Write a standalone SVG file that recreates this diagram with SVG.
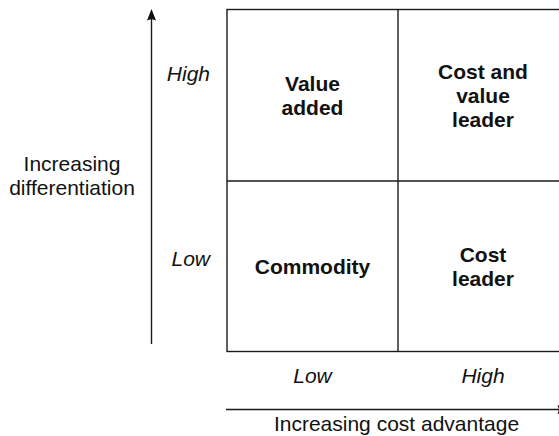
<svg xmlns="http://www.w3.org/2000/svg" width="559" height="436" viewBox="0 0 559 436">
  <style>
    .ln { fill: none; stroke: #1a1a1a; stroke-width: 1.4; }
    .t { font-family: "Liberation Sans", Arial, Helvetica, sans-serif; font-size: 21px; fill: #111; text-anchor: middle; }
    .b { font-weight: bold; }
    .i { font-style: italic; }
    .head { fill: #111; stroke: none; }
  </style>
  <rect width="559" height="436" fill="#ffffff"/>

  <g id="grid">
    <rect class="ln" x="227" y="9.5" width="342" height="342"/>
    <line class="ln" x1="398" y1="9.5" x2="398" y2="351.5"/>
    <line class="ln" x1="227" y1="181" x2="569" y2="181"/>
  </g>

  <g id="value-added">
    <text class="t b" x="312.5" y="90.5">Value</text>
    <text class="t b" x="312.5" y="114.5">added</text>
  </g>
  <g id="cost-and-value-leader">
    <text class="t b" x="483" y="78.5">Cost and</text>
    <text class="t b" x="483" y="102.5">value</text>
    <text class="t b" x="483" y="126.5">leader</text>
  </g>
  <g id="commodity">
    <text class="t b" x="312.5" y="273.5">Commodity</text>
  </g>
  <g id="cost-leader">
    <text class="t b" x="483" y="261.5">Cost</text>
    <text class="t b" x="483" y="285.5">leader</text>
  </g>

  <g id="y-labels">
    <text class="t i" x="210" y="80.5" text-anchor="end" style="text-anchor:end">High</text>
    <text class="t i" x="210" y="266" style="text-anchor:end">Low</text>
    <text class="t" x="72" y="170.5">Increasing</text>
    <text class="t" x="72" y="194.5">differentiation</text>
  </g>
  <g id="x-labels">
    <text class="t i" x="312.5" y="382.5">Low</text>
    <text class="t i" x="483" y="382.5">High</text>
    <text class="t" x="396.5" y="431">Increasing cost advantage</text>
  </g>

  <g id="connectors">
    <line class="ln" x1="151.5" y1="344" x2="151.5" y2="18"/>
    <path class="head" d="M151.5,9 L156,20.5 L151.5,19 L147,20.5 Z"/>
    <line class="ln" x1="226" y1="409.5" x2="560" y2="409.5"/>
    <path class="head" d="M569,409.5 L557.5,414 L559,409.5 L557.5,405 Z"/>
  </g>
</svg>
